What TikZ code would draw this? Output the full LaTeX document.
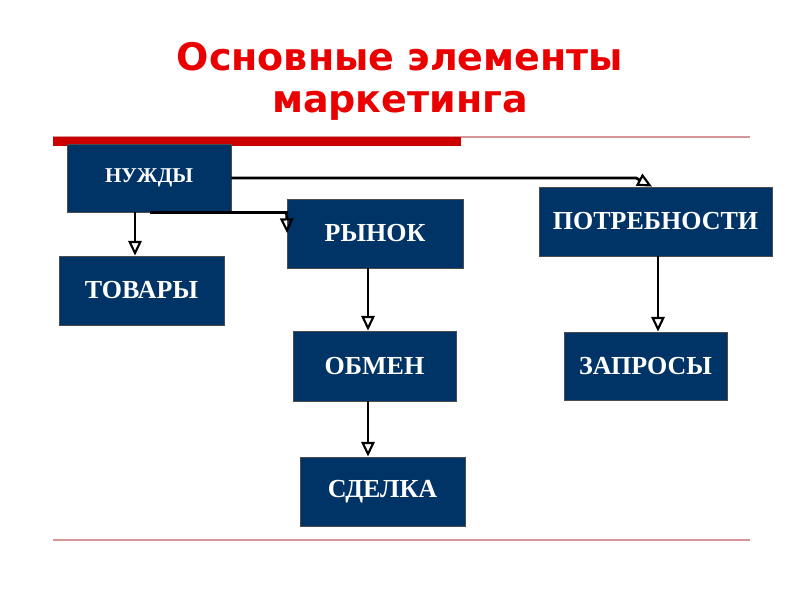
\documentclass[tikz,border=0pt]{standalone}
\usepackage{fontspec}
\setmainfont{Liberation Serif}
\newfontfamily\titlefont{DejaVu Sans}
\usetikzlibrary{arrows.meta}
\definecolor{navy}{RGB}{0,51,102}
\definecolor{titlered}{RGB}{235,0,0}
\definecolor{bandred}{RGB}{204,0,0}
\definecolor{rulepink}{RGB}{214,150,150}
\tikzset{
  box/.style 2 args={draw=black!70, line width=0.6pt, fill=navy, text=white,
    font=\bfseries\fontsize{19.5}{22}\selectfont,
    minimum width=#1*0.75pt, minimum height=#2*0.75pt, inner sep=0pt},
  arr/.style={draw=black, line width=2.1pt,
    -{Triangle[open, length=11pt, width=10pt, line width=1.6pt]}},
}
\begin{document}
\begin{tikzpicture}[x=0.75pt, y=-0.75pt]
\useasboundingbox (0,0) rectangle (800,600);
% title
\node[text=titlered, font=\titlefont\bfseries\fontsize{28.5}{31}\selectfont, align=center, anchor=base] (title) at (400,112) {Основные элементы\\маркетинга};
% rules
\draw[rulepink, line width=1.2pt] (53,137) -- (750,137);
\fill[bandred] (53,137) rectangle (461,146);
\draw[rulepink, line width=1.2pt] (53,540) -- (750,540);
% boxes
\node[box={164}{68}, font=\bfseries\fontsize{15.8}{18}\selectfont] (nuzh) at (149,178) {НУЖДЫ};
\node[box={165}{69}] (tov) at (141.5,290.5) {ТОВАРЫ};
\node[box={176}{69}] (ryn) at (375,233.5) {РЫНОК};
\node[box={233}{69}] (potr) at (655.5,221.5) {ПОТРЕБНОСТИ};
\node[box={163}{70}] (obm) at (374.5,366) {ОБМЕН};
\node[box={165}{69}] (sdel) at (382.5,491.5) {СДЕЛКА};
\node[box={163}{68}] (zapr) at (645.5,366) {ЗАПРОСЫ};
% helper coordinates
\coordinate (x135) at (135,0);
\coordinate (x150) at (150,0);
\coordinate (x368) at (368,0);
\coordinate (x658) at (658,0);
\coordinate (bend) at (636,178);
\coordinate (tipP) at (652,0);
\coordinate (tipR) at (287,233);
% connectors
\draw[arr] (nuzh.south -| x135) -- (tov.north -| x135);
\draw[arr] (nuzh.south -| x150) -- (ryn.west |- nuzh.south) -- (tipR);
\draw[arr] (nuzh.east) -- (bend) -- (potr.north -| tipP);
\draw[arr] (ryn.south -| x368) -- (obm.north -| x368);
\draw[arr] (obm.south -| x368) -- (sdel.north -| x368);
\draw[arr] (potr.south -| x658) -- (zapr.north -| x658);
\end{tikzpicture}
\end{document}
